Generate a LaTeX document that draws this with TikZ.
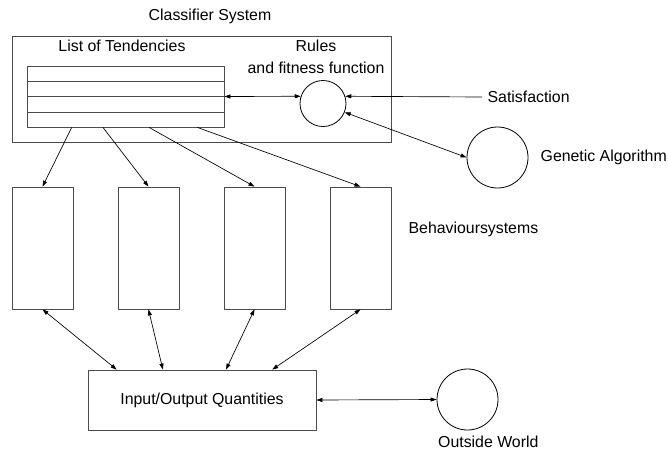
\documentclass[tikz,border=0pt]{standalone}
\usepackage{fontspec}
\setmainfont{Liberation Sans}
\usetikzlibrary{arrows.meta,positioning,calc}
\tikzset{
  >={Triangle[length=4.5pt,width=3pt]},
  box/.style={rectangle, draw=black!70, line width=0.6pt, inner sep=0pt},
  ring/.style={circle, draw, line width=0.6pt, inner sep=0pt},
  link/.style={<->, line width=0.5pt},
  feed/.style={->, line width=0.5pt},
  txt/.style={inner sep=1pt}
}

\begin{document}
\begin{tikzpicture}[x=0.75pt, y=-0.75pt, font=\fontsize{11.9}{14}\selectfont,
    % boxes of the behaviour systems
    behbox/.style={box, minimum width=45.75pt, minimum height=91.5pt},
    rowline/.style={draw=black!70, line width=0.6pt}
]
\useasboundingbox (0,0) rectangle (668,451);

% --- Classifier System ---
\node[box, minimum width=284.25pt, minimum height=79.5pt] (clsBox) at (201.5,89) {};
\node[txt] (clsLbl) at (210,16) {Classifier System};
\node[txt] (listLbl) at (122,46) {List of Tendencies};
\node[box, minimum width=147.75pt, minimum height=45.75pt] (listBox) at (125.5,96.5) {};
\foreach \f in {0.25,0.5,0.75} {
    \draw[rowline] ($(listBox.north west)!\f!(listBox.south west)$) -- ($(listBox.north east)!\f!(listBox.south east)$);
}
\node[txt, align=center, font=\fontsize{11.9}{16.5}\selectfont] (rulesLbl) at (316,57) {Rules\\and fitness function};
\node[ring, minimum size=34.5pt] (rulesCirc) at (323,103.5) {};

% --- Satisfaction and Genetic Algorithm ---
\node[txt, anchor=west, inner sep=4pt] (satLbl) at (482,97) {Satisfaction};
\node[ring, minimum size=45.75pt] (gaCirc) at (497.5,157.5) {};
\node[txt, right=8pt of gaCirc] (gaLbl) {Genetic Algorithm};

\draw[link] (listBox.east) -- (rulesCirc.162);
\draw[feed] (satLbl.west) -- (rulesCirc.18);
\draw[link] (rulesCirc.-22) -- (gaCirc.west);

% --- Behaviour systems ---
\foreach \i/\x in {1/42.5,2/148.5,3/254.5,4/360.5} {
    \node[behbox] (beh\i) at (\x,248) {};
}
\node[txt, anchor=west] (behLbl) at (407,229) {Behavioursystems};

\foreach \i/\f in {1/0.228,2/0.386,3/0.619,4/0.863} {
    \coordinate (tend\i) at ($(listBox.south west)!\f!(listBox.south east)$);
    \draw[feed] (tend\i) -- (beh\i.north);
}

% --- Input/Output and outside world ---
\node[box, minimum width=171pt, minimum height=45pt] (ioBox) at (202,400) {Input/Output Quantities};
\foreach \i/\f in {1/0.127,2/0.329,3/0.605,4/0.807} {
    \coordinate (io\i) at ($(ioBox.north west)!\f!(ioBox.north east)$);
    \draw[link] (beh\i.south) -- (io\i);
}
\node[ring, minimum size=45.75pt] (worldCirc) at (467.5,399.5) {};
\node[txt, anchor=north west, yshift=-3pt] (worldLbl) at (worldCirc.west |- worldCirc.south) {Outside World};
\draw[link] (ioBox.east) -- (worldCirc.west);

\end{tikzpicture}
\end{document}
